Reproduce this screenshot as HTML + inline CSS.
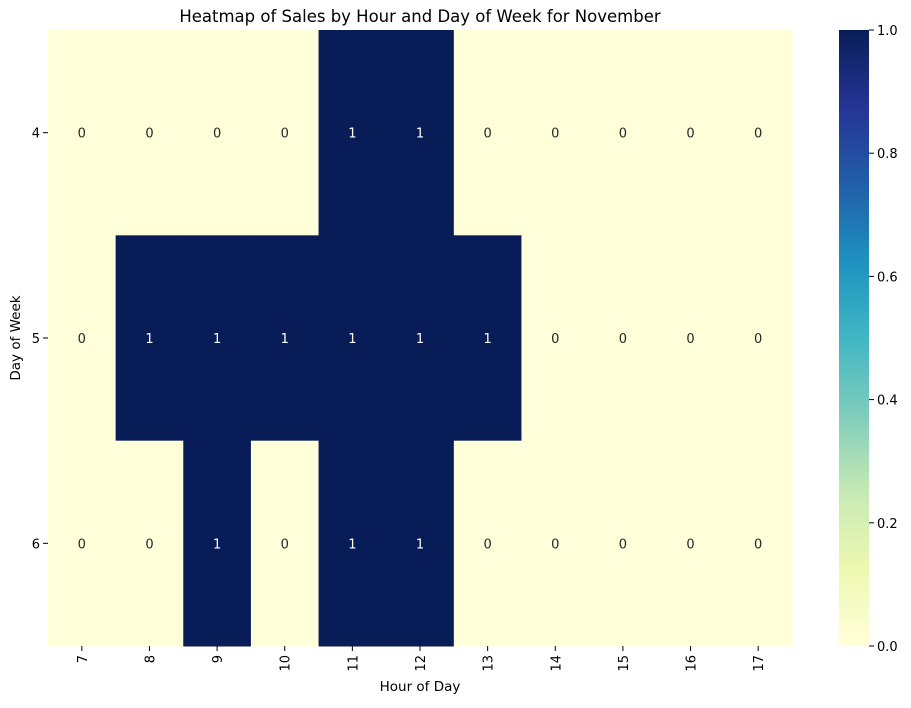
<!DOCTYPE html>
<html><head><meta charset="utf-8"><style>
body{margin:0;background:#fff;font-family:"Liberation Sans","DejaVu Sans",sans-serif;}
svg text{font-family:"DejaVu Sans","Liberation Sans",sans-serif;}
</style></head><body>
<svg id="c" width="911" height="703" xmlns="http://www.w3.org/2000/svg">
<defs><linearGradient id="g" x1="0" y1="1" x2="0" y2="0">
<stop offset="0" stop-color="#ffffd9"/><stop offset="0.125" stop-color="#edf8b1"/><stop offset="0.25" stop-color="#c7e9b4"/><stop offset="0.375" stop-color="#7fcdbb"/><stop offset="0.5" stop-color="#41b6c4"/><stop offset="0.625" stop-color="#1d91c0"/><stop offset="0.75" stop-color="#225ea8"/><stop offset="0.875" stop-color="#253494"/><stop offset="1" stop-color="#081d58"/>
</linearGradient></defs>
<text x="420" y="22" style="font-size:16.5px" text-anchor="middle">Heatmap of Sales by Hour and Day of Week for November</text>
<g id="cells"></g>
<g id="ax"></g>
<text x="420" y="691" style="font-size:13.5px" text-anchor="middle">Hour of Day</text>
<text x="20" y="338" style="font-size:13.5px" text-anchor="middle" transform="rotate(-90 20 338)">Day of Week</text>
<rect x="839" y="30" width="30" height="616" fill="url(#g)"/>
<g id="cb"></g>
</svg>
<script>
const hours=[7,8,9,10,11,12,13,14,15,16,17];
const days=[4,5,6];
const row4=[0,0,0,0,1,1,0,0,0,0,0];
const row5=[0,1,1,1,1,1,1,0,0,0,0];
const row6=[0,0,1,0,1,1,0,0,0,0,0];
const cbTicks=[0,0.2,0.4,0.6,0.8,1.0];
const values=[row4,row5,row6];
const NS="http://www.w3.org/2000/svg";
const X0=48,X1=792,Y0=30,Y1=646;
const cw=(X1-X0)/hours.length, ch=(Y1-Y0)/days.length;
const xs=i=>X0+i*cw, ys=j=>Y0+j*ch;
function mk(t,a,p){const e=document.createElementNS(NS,t);for(const k in a)e.setAttribute(k,a[k]);p.appendChild(e);return e;}
const cells=document.getElementById('cells'),ax=document.getElementById('ax'),cb=document.getElementById('cb');
const FS='font-size:13px';
values.forEach((r,j)=>r.forEach((v,i)=>{
 const rc=mk('rect',{x:xs(i),y:ys(j),width:cw+0.5,height:ch+0.5,fill:v?'#081d58':'#ffffd9'},cells);
 
 
 const t=mk('text',{x:xs(i)+cw/2,y:ys(j)+ch/2+5,style:FS,'text-anchor':'middle',fill:v?'#fff':'#262626'},cells);
 t.textContent=v;
 
 
}));
hours.forEach((h,i)=>{
 const x=xs(i)+cw/2;
 mk('line',{x1:x,x2:x,y1:Y1,y2:Y1+5,stroke:'#000'},ax);
 const t=mk('text',{x:x+5,y:Y1+9,style:FS,'text-anchor':'end',transform:`rotate(-90 ${x+5} ${Y1+9})`},ax);
 t.textContent=h;
 
 
});
days.forEach((d,j)=>{
 const y=ys(j)+ch/2;
 mk('line',{x1:X0-5,x2:X0,y1:y,y2:y,stroke:'#000'},ax);
 const t=mk('text',{x:X0-8,y:y+5,style:FS,'text-anchor':'end'},ax);
 t.textContent=d;
 
 
});
cbTicks.forEach(v=>{
 const y=Y1-v*(Y1-Y0);
 mk('line',{x1:869,x2:874,y1:y,y2:y,stroke:'#000'},cb);
 const t=mk('text',{x:877,y:y+5,style:FS},cb);
 t.textContent=v.toFixed(1);
 
 
});
</script>
</body></html>
